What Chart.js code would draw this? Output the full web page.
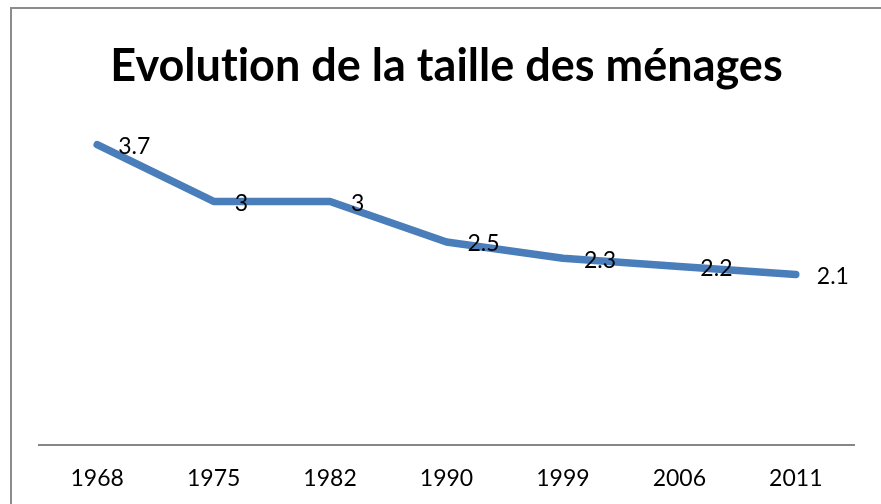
<!DOCTYPE html>
<html>
<head>
<meta charset="utf-8">
<script src="https://cdn.jsdelivr.net/npm/chart.js@4.4.1/dist/chart.umd.min.js"></script>
<style>
  html, body { margin: 0; padding: 0; background: #ffffff; }
  #frame { position: absolute; left: 10px; top: 7px; width: 1000px; height: 700px; border: 2px solid #8c8c8c; box-sizing: border-box; }
  #wrap { position: absolute; left: 0; top: 0; width: 881px; height: 504px; }
</style>
</head>
<body>
<div id="frame"></div>
<div id="wrap"><canvas id="c" width="881" height="504"></canvas></div>
<script>
const titleText = "Evolution de la taille des ménages";
const categories = ["1968", "1975", "1982", "1990", "1999", "2006", "2011"];
const householdSize = [3.7, 3, 3, 2.5, 2.3, 2.2, 2.1];

const noLigatures = {
  id: 'noLigatures',
  beforeDraw(chart) {
    if ('letterSpacing' in chart.ctx) chart.ctx.letterSpacing = '0.01px';
  }
};

const dataLabels = {
  id: 'dataLabels',
  afterDatasetsDraw(chart) {
    const ctx = chart.ctx;
    const meta = chart.getDatasetMeta(0);
    const values = chart.data.datasets[0].data;
    ctx.save();
    ctx.font = '23px Lato';
    ctx.fillStyle = '#000000';
    ctx.textAlign = 'left';
    ctx.textBaseline = 'middle';
    meta.data.forEach((pt, i) => {
      ctx.fillText(String(values[i]), pt.x + 21, pt.y + 2);
    });
    ctx.restore();
  }
};

new Chart(document.getElementById('c'), {
  type: 'line',
  data: {
    labels: categories,
    datasets: [{
      data: householdSize,
      borderColor: '#4a7ebb',
      borderWidth: 7.5,
      borderCapStyle: 'round',
      borderJoinStyle: 'round',
      pointRadius: 0,
      pointHoverRadius: 0,
      tension: 0,
      fill: false
    }]
  },
  options: {
    responsive: false,
    animation: false,
    layout: { padding: { left: 39, right: 27, top: 0, bottom: 0 } },
    plugins: {
      legend: { display: false },
      tooltip: { enabled: false },
      title: {
        display: true,
        text: titleText,
        color: '#000000',
        font: { family: 'Lato', size: 45, weight: 'bold' },
        padding: { top: 39, bottom: 27.3 }
      }
    },
    scales: {
      x: {
        offset: true,
        grid: { display: false, drawTicks: false },
        border: { display: true, color: '#868686', width: 2 },
        ticks: { color: '#000000', font: { family: 'Lato', size: 23 }, padding: 20, maxRotation: 0 },
        afterFit(scale) { scale.height = 59; }
      },
      y: {
        display: false,
        min: 0,
        max: 4
      }
    }
  },
  plugins: [noLigatures, dataLabels]
});
</script>
</body>
</html>
